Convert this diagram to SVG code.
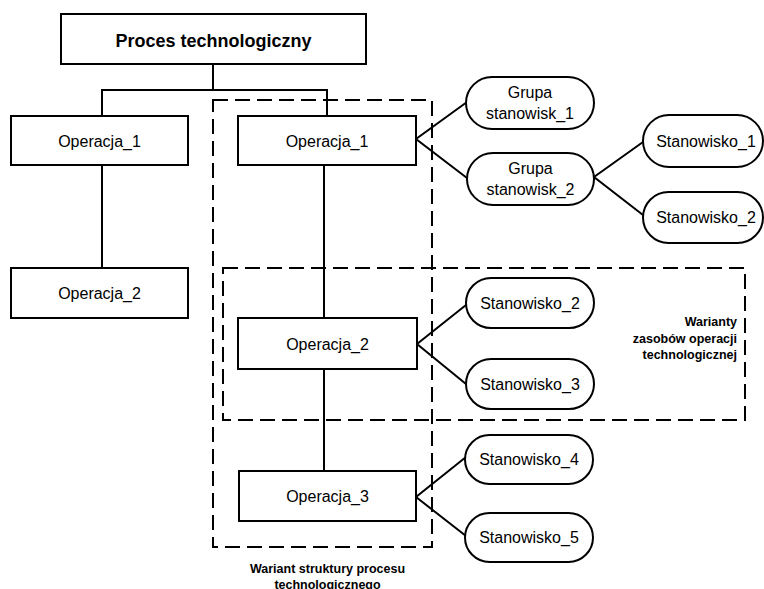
<svg xmlns="http://www.w3.org/2000/svg" width="764" height="589" viewBox="0 0 764 589">
  <style>
    .box { fill: #ffffff; stroke: #000000; stroke-width: 2; }
    .pill { fill: #ffffff; stroke: #000000; stroke-width: 2; }
    .link { fill: none; stroke: #000000; stroke-width: 2; }
    .frame { fill: none; stroke: #000000; stroke-width: 2; stroke-dasharray: 15 7; }
    .lbl { font-family: "Liberation Sans", Arial, sans-serif; font-size: 16px; fill: #000000; text-anchor: middle; }
    .title { font-family: "Liberation Sans", Arial, sans-serif; font-size: 18px; font-weight: bold; fill: #000000; text-anchor: middle; }
    .note { font-family: "Liberation Sans", Arial, sans-serif; font-size: 12.5px; font-weight: bold; fill: #000000; }
  </style>

  <!-- variant frames -->
  <g id="frames">
    <rect class="frame" x="213" y="100" width="219" height="447"/>
    <rect class="frame" x="223" y="268" width="522" height="152"/>
    <text class="note" x="327.5" y="573" text-anchor="middle">Wariant struktury procesu</text>
    <text class="note" x="327.5" y="589" text-anchor="middle">technologicznego</text>
    <text class="note" x="737" y="326" text-anchor="end">Warianty</text>
    <text class="note" x="737" y="342.5" text-anchor="end">zasobów operacji</text>
    <text class="note" x="737" y="359" text-anchor="end">technologicznej</text>
  </g>

  <!-- connectors -->
  <g id="connectors">
    <polyline class="link" points="213,64 213,90"/>
    <polyline class="link" points="102,116 102,90 327,90 327,116"/>
    <line class="link" x1="102" y1="165" x2="102" y2="268"/>
    <line class="link" x1="324" y1="165" x2="324" y2="318"/>
    <line class="link" x1="324" y1="369" x2="324" y2="471"/>
    <polyline class="link" points="467,102 416,139 467,178"/>
    <polyline class="link" points="643,142 594,177 643,215"/>
    <polyline class="link" points="466,305 417,344 466,384"/>
    <polyline class="link" points="466,457 416,497 466,536"/>
  </g>

  <g id="proces">
    <rect class="box" x="61" y="14" width="305" height="50"/>
    <text class="title" x="213.5" y="47">Proces technologiczny</text>
  </g>

  <g id="op1-left">
    <rect class="box" x="11" y="116" width="177" height="49"/>
    <text class="lbl" x="99.5" y="147">Operacja_1</text>
  </g>
  <g id="op2-left">
    <rect class="box" x="11" y="268" width="177" height="50"/>
    <text class="lbl" x="99.5" y="299">Operacja_2</text>
  </g>

  <g id="op1">
    <rect class="box" x="238" y="116" width="178" height="49"/>
    <text class="lbl" x="327" y="147">Operacja_1</text>
  </g>
  <g id="op2">
    <rect class="box" x="238" y="318" width="179" height="51"/>
    <text class="lbl" x="327.5" y="350">Operacja_2</text>
  </g>
  <g id="op3">
    <rect class="box" x="239" y="471" width="177" height="50"/>
    <text class="lbl" x="327.5" y="502">Operacja_3</text>
  </g>

  <g id="grupa1">
    <rect class="pill" x="466" y="77" width="128" height="52" rx="26"/>
    <text class="lbl" x="530" y="98">Grupa</text>
    <text class="lbl" x="530" y="119">stanowisk_1</text>
  </g>
  <g id="grupa2">
    <rect class="pill" x="467" y="153" width="127" height="52" rx="26"/>
    <text class="lbl" x="530.5" y="174">Grupa</text>
    <text class="lbl" x="530.5" y="195">stanowisk_2</text>
  </g>

  <g id="st1">
    <rect class="pill" x="643" y="115" width="120" height="52" rx="26"/>
    <text class="lbl" x="706" y="147">Stanowisko_1</text>
  </g>
  <g id="st2-top">
    <rect class="pill" x="643" y="192" width="120" height="51" rx="25.5"/>
    <text class="lbl" x="706" y="223">Stanowisko_2</text>
  </g>

  <g id="st2">
    <rect class="pill" x="466" y="278" width="128" height="50" rx="25"/>
    <text class="lbl" x="530" y="309">Stanowisko_2</text>
  </g>
  <g id="st3">
    <rect class="pill" x="466" y="359" width="128" height="50" rx="25"/>
    <text class="lbl" x="530" y="390">Stanowisko_3</text>
  </g>
  <g id="st4">
    <rect class="pill" x="465" y="435" width="128" height="49" rx="24.5"/>
    <text class="lbl" x="529" y="465">Stanowisko_4</text>
  </g>
  <g id="st5">
    <rect class="pill" x="465" y="513" width="128" height="49" rx="24.5"/>
    <text class="lbl" x="529" y="543">Stanowisko_5</text>
  </g>
</svg>
